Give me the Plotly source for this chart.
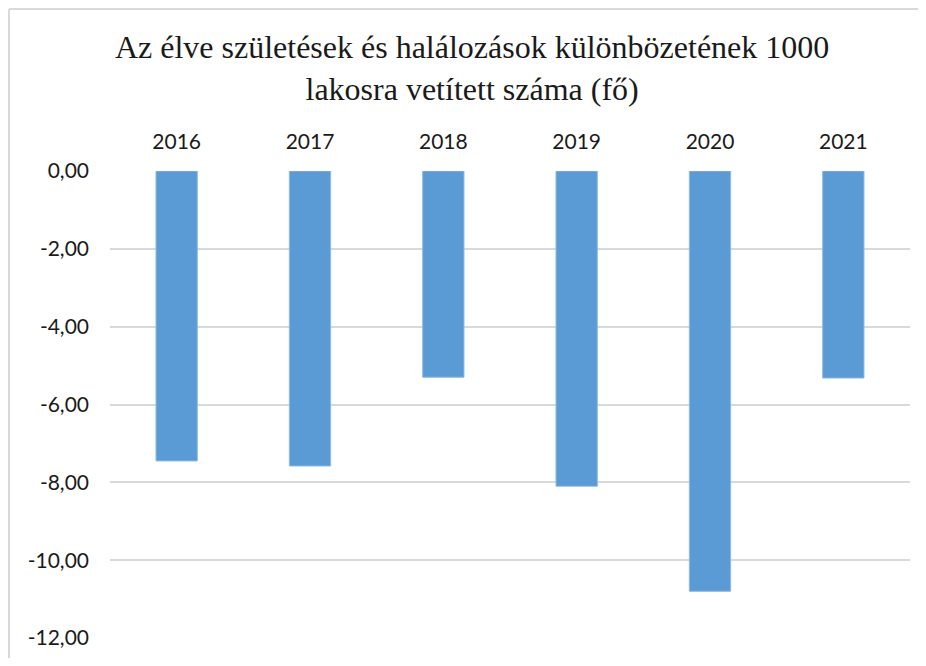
import plotly.graph_objects as go

years = ['2016', '2017', '2018', '2019', '2020', '2021']
values = [-7.45, -7.58, -5.30, -8.10, -10.80, -5.32]
y_ticks = [0, -2, -4, -6, -8, -10, -12]
y_labels = ['0,00', '-2,00', '-4,00', '-6,00', '-8,00', '-10,00', '-12,00']

TITLE = 'Az élve születések és halálozások különbözetének 1000<br>lakosra vetített száma (fő)'

fig = go.Figure()
fig.add_trace(go.Bar(x=years, y=values, marker=dict(color='#5b9bd5', line=dict(color='#8dbbe6', width=1)),
                     width=0.31, showlegend=False))

# page body adds 8px, so the figure is kept a bit smaller than the window
fig.update_layout(
    width=910, height=650,
    margin=dict(l=102, r=8, t=163, b=20),
    paper_bgcolor='white', plot_bgcolor='white',
    title=dict(text=TITLE, x=0.51, xref='container', xanchor='center', y=0.923, yref='container', yanchor='middle',
               font=dict(family='Liberation Serif', size=32, color='#1a1a1a')),
    font=dict(family='Lato', size=21, color='#1a1a1a'),
)
fig.update_xaxes(side='top', showgrid=False, showline=False, ticks='', ticklabelstandoff=17)
fig.update_yaxes(range=[-12, 0], tickvals=y_ticks, ticktext=y_labels, showgrid=True, gridcolor='#d9d9d9', gridwidth=2,
                 zeroline=False, showline=False, ticks='', ticklabelstandoff=20)

# chart frame, only left and top edges are visible (cropped elsewhere)
fx = (1 - 102) / 800
fy = 1 + (163 - 1) / 467
fig.add_shape(type='line', xref='paper', yref='paper', x0=fx, x1=fx, y0=-0.2, y1=fy,
              line=dict(color='#d9d9d9', width=2), layer='below')
fig.add_shape(type='line', xref='paper', yref='paper', x0=fx, x1=1.2, y0=fy, y1=fy,
              line=dict(color='#d9d9d9', width=2), layer='below')

fig.write_html("out.html")
